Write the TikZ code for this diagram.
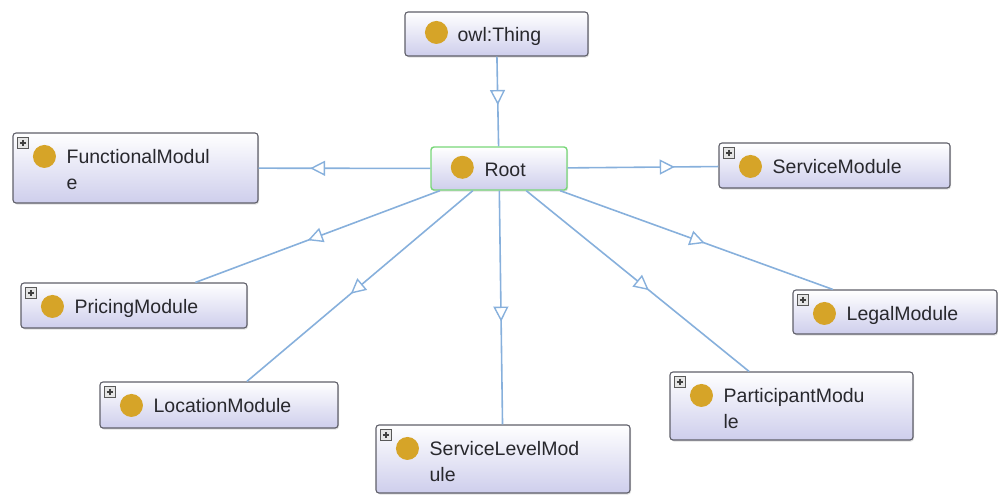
\documentclass[tikz,border=0pt]{standalone}
\usepackage{fontspec}
\setmainfont{Liberation Sans}
\usetikzlibrary{arrows.meta,decorations.markings,fit,shadows}

\definecolor{boxline}{RGB}{95,95,105}
\definecolor{boxbot}{RGB}{206,206,236}
\definecolor{rootline}{RGB}{120,215,120}
\definecolor{clsdot}{RGB}{214,164,40}
\definecolor{edgeblue}{RGB}{135,176,220}
\definecolor{txt}{RGB}{40,40,45}

\tikzset{
  x=1pt, y=-1pt,
  cls/.style={draw=boxline, line width=1.1pt, rounded corners=3pt,
    top color=white, bottom color=boxbot, inner sep=0pt,
    drop shadow={shadow xshift=1pt, shadow yshift=-1.5pt, opacity=.25}},
  rootcls/.style={cls, draw=rootline, line width=1.4pt},
  lbl/.style={anchor=base west, inner sep=0pt, text=txt,
    font=\fontsize{19.5}{26}\selectfont},
  isa/.style={draw=edgeblue, line width=1.6pt,
    decoration={markings, mark=at position #1 with
      {\arrow{Triangle[length=15pt, width=15pt, fill=white, line width=1.4pt]}}},
    postaction={decorate}},
  pics/plusbox/.style={code={
    \draw[draw=gray!70!black, fill=gray!20, line width=.6pt] (0,0) rectangle (11,11);
    \draw[line width=1.1pt, draw=black!75] (2.5,5.5) -- (8.5,5.5) (5.5,2.5) -- (5.5,8.5);
  }}
}

% class box: name, left, top, right, bottom, style
\newcommand\clsbox[6]{%
  \node[#6, fit={(#2,#3) (#4,#5)}] (#1) {};
}
% class dot inside a box: box name, distance from the top
\newcommand\clsdot[2]{%
  \fill[clsdot] ([shift={(32,#2)}]#1.north west) circle[radius=11.5pt];
}

\begin{document}
\begin{tikzpicture}
\useasboundingbox (0,0) rectangle (998,496);

% boxes
\clsbox{thing}{405}{12}{588}{56}{cls}
\clsbox{root}{431}{147}{567}{190}{rootcls}
\clsbox{func}{13}{133}{258}{203}{cls}
\clsbox{service}{719}{143}{950}{188}{cls}
\clsbox{pricing}{21}{283}{247}{328}{cls}
\clsbox{legal}{793}{290}{997}{334}{cls}
\clsbox{location}{100}{382}{338}{428}{cls}
\clsbox{participant}{670}{372}{913}{440}{cls}
\clsbox{servlevel}{376}{425}{630}{493}{cls}

% dots
\clsdot{thing}{21}
\clsdot{root}{21}
\clsdot{func}{24}
\clsdot{service}{24}
\clsdot{pricing}{24}
\clsdot{legal}{24}
\clsdot{location}{24}
\clsdot{participant}{24}
\clsdot{servlevel}{24}

% expand icons
\foreach \n in {func,service,pricing,legal,location,participant,servlevel}
  \pic at ([shift={(5,5)}]\n.north west) {plusbox};

% labels
\node[lbl] (thingL) at ([shift={(53,30)}]thing.north west) {owl:Thing};
\node[lbl] (rootL) at ([shift={(54,30)}]root.north west) {Root};
\node[lbl] (funcL) at ([shift={(54,31)}]func.north west) {FunctionalModul};
\node[lbl] (funcL2) at ([shift={(54,57)}]func.north west) {e};
\node[lbl] (serviceL) at ([shift={(54,31)}]service.north west) {ServiceModule};
\node[lbl] (pricingL) at ([shift={(54,31)}]pricing.north west) {PricingModule};
\node[lbl] (legalL) at ([shift={(54,31)}]legal.north west) {LegalModule};
\node[lbl] (locationL) at ([shift={(54,31)}]location.north west) {LocationModule};
\node[lbl] (participantL) at ([shift={(54,31)}]participant.north west) {ParticipantModu};
\node[lbl] (participantL2) at ([shift={(54,57)}]participant.north west) {le};
\node[lbl] (servlevelL) at ([shift={(54,31)}]servlevel.north west) {ServiceLevelMod};
\node[lbl] (servlevelL2) at ([shift={(54,57)}]servlevel.north west) {ule};

% subclass edges
\path[isa=0.54] (thing) -- (root);
\path[isa=0.70] (root) -- (func);
\path[isa=0.71] (root) -- (service);
\path[isa=0.54] (root) -- (pricing);
\path[isa=0.54] (root) -- (location);
\path[isa=0.56] (root) -- (servlevel);
\path[isa=0.55] (root) -- (participant);
\path[isa=0.53] (root) -- (legal);
\end{tikzpicture}
\end{document}
